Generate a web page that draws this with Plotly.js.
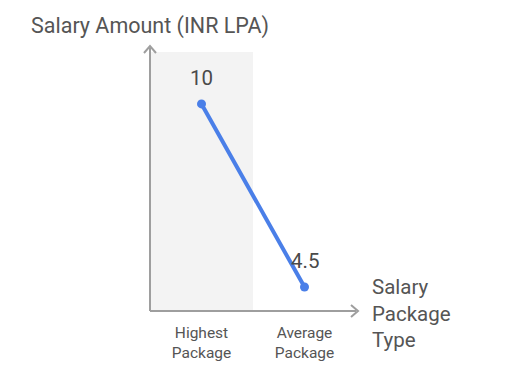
<!DOCTYPE html>
<html><head><meta charset="utf-8">
<script src="https://cdn.plot.ly/plotly-3.0.1.min.js"></script>
<style>body{margin:0;background:#fff}#chart{width:532px;height:391px}</style>
</head><body><div id="chart"></div>
<script>
const categories = ["Highest Package", "Average Package"];
const tickLabels = ["Highest<br>Package", "Average<br>Package"];
const salaryValues = [10, 4.5];
const valueLabels = ["10", "4.5"];

const axisColor = "#9e9e9e";
const textColor = "#555555";
const font = "Roboto, 'Noto Sans', sans-serif";

const trace = {
  x: categories,
  y: salaryValues,
  type: "scatter",
  mode: "lines+markers",
  line: {color: "#4a7fe8", width: 4},
  marker: {color: "#4a7fe8", size: 9},
  cliponaxis: false,
  hoverinfo: "skip"
};

const labelAnnotations = categories.map((c, i) => ({
  x: c, y: salaryValues[i], xref: "x", yref: "y", text: valueLabels[i],
  showarrow: false, yanchor: "middle", yshift: 26,
  font: {family: font, size: 20.5, color: "#4a4a4a"}
}));

const layout = {
  width: 532, height: 391,
  margin: {l: 150, r: 176, t: 52, b: 80},
  paper_bgcolor: "#fff", plot_bgcolor: "#fff",
  showlegend: false,
  font: {family: font, color: textColor},
  xaxis: {
    type: "category", range: [-0.5, 1.5],
    tickvals: categories, ticktext: tickLabels,
    showgrid: false, zeroline: false, showline: false, ticks: "",
    ticklabelstandoff: 10,
    tickfont: {family: font, size: 15.5, color: textColor}
  },
  yaxis: {
    range: [3.78, 11.56],
    showgrid: false, zeroline: false, showline: false, showticklabels: false, ticks: ""
  },
  shapes: [
    {type: "rect", xref: "x", yref: "y domain", x0: -0.5, x1: 0.5, y0: 0, y1: 1,
     fillcolor: "#f3f3f3", line: {width: 0}, layer: "below"},
    {type: "line", xref: "x domain", yref: "y domain", x0: 0, x1: 1, y0: 0, y1: 0,
     line: {color: axisColor, width: 2}},
    {type: "path", xref: "x domain", yref: "y domain", xsizemode: "pixel", ysizemode: "pixel",
     xanchor: 1, yanchor: 0, path: "M -5,-6 L 2,0 L -5,6", line: {color: axisColor, width: 2}},
    {type: "line", xref: "x domain", yref: "y domain", x0: 0, x1: 0, y0: 0, y1: 1,
     line: {color: axisColor, width: 2}},
    {type: "line", xref: "x domain", yref: "y domain", xsizemode: "pixel", ysizemode: "pixel",
     xanchor: 0, yanchor: 1, x0: 0, x1: 0, y0: 0, y1: 4, line: {color: axisColor, width: 2}},
    {type: "path", xref: "x domain", yref: "y domain", xsizemode: "pixel", ysizemode: "pixel",
     xanchor: 0, yanchor: 1, path: "M -6,-1 L 0,6 L 6,-1", line: {color: axisColor, width: 2}}
  ],
  annotations: labelAnnotations.concat([
    {text: "Salary Amount (INR LPA)", xref: "paper", yref: "paper", x: -0.586, y: 1.0,
     xanchor: "left", yanchor: "bottom", yshift: 11, showarrow: false,
     font: {family: font, size: 21.5, color: textColor}},
    {text: "Salary<br>Package<br>Type", xref: "paper", yref: "paper", x: 1, y: 0,
     xanchor: "left", yanchor: "middle", xshift: 14, yshift: -2, showarrow: false, align: "left",
     font: {family: font, size: 20.5, color: textColor}}
  ])
};

Plotly.newPlot("chart", [trace], layout, {displayModeBar: false, staticPlot: true});
</script></body></html>
